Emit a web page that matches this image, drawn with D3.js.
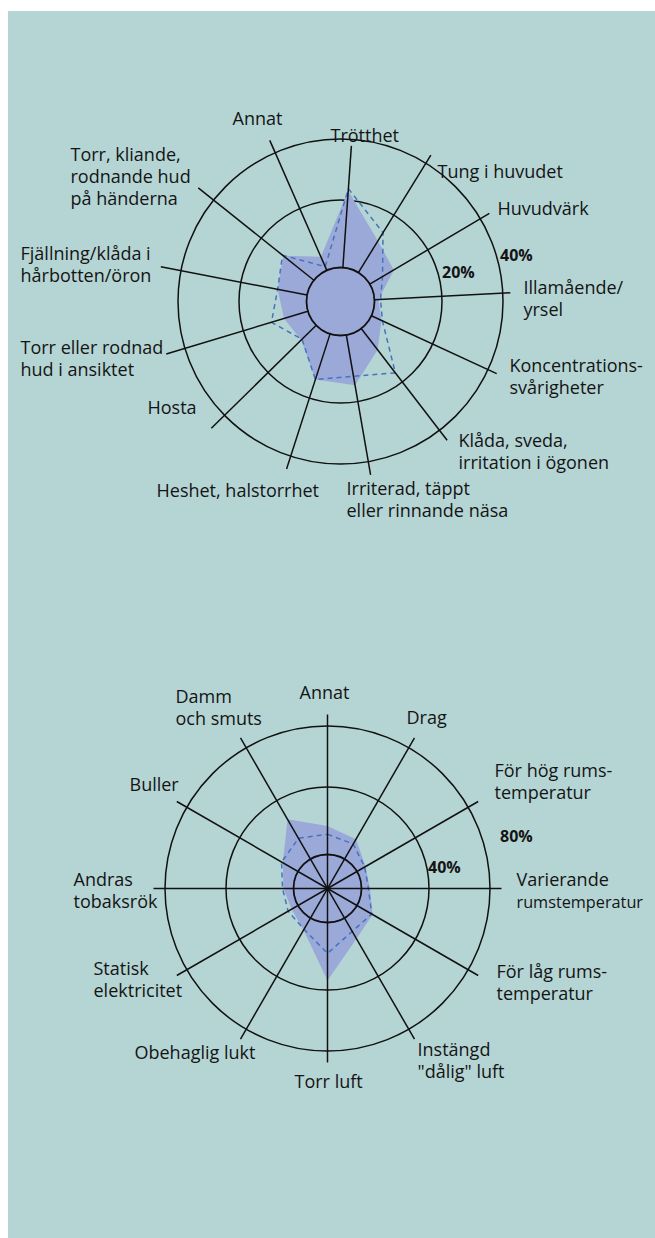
<!DOCTYPE html>
<html lang="sv">
<head>
<meta charset="utf-8">
<title>Besvär och miljöfaktorer</title>
<script src="https://d3js.org/d3.v7.min.js"></script>
<style>
  body { margin: 0; background: #fff; }
  svg text { font-family: "Open Sans", "Noto Sans", sans-serif; fill: #141414; }
</style>
</head>
<body>
<script>
// --- data: symptoms (top chart) ---
const symptoms = [
  "Trötthet", "Tung i huvudet", "Huvudvärk", "Illamående/\nyrsel",
  "Koncentrations-\nsvårigheter", "Klåda, sveda,\nirritation i ögonen",
  "Irriterad, täppt\neller rinnande näsa", "Heshet, halstorrhet", "Hosta",
  "Torr eller rodnad\nhud i ansiktet", "Fjällning/klåda i\nhårbotten/öron",
  "Torr, kliande,\nrodnande hud\npå händerna", "Annat"
];
const symptomsSolid  = [23.1, 11.0, 8.3, 1.2, 3.3, 8.0, 15.1, 14.2, 6.2, 7.4, 8.9, 11.6, 4.4];
const symptomsDashed = [23.8, 13.9, 4.4, 1.8, 3.6, 16.6, 12.4, 14.2, 5.9, 11.3, 8.9, 11.9, 1.2];
const symptomTicks = [20, 40];

// --- data: indoor climate (bottom chart) ---
const climate = [
  "Annat", "Drag", "För hög rums-\ntemperatur", "Varierande\nrumstemperatur",
  "För låg rums-\ntemperatur", "Instängd\n\"dålig\" luft", "Torr luft",
  "Obehaglig lukt", "Statisk\nelektricitet", "Andras\ntobaksrök", "Buller",
  "Damm\noch smuts"
];
const climateSolid  = [16.9, 13.6, 5.9, 5.0, 10.7, 14.2, 34.4, 8.3, 4.4, 6.0, 10.4, 27.3];
const climateDashed = [12.0, 10.3, 5.3, 4.1, 10.1, 9.2, 18.3, 7.7, 6.8, 6.5, 11.3, 14.2];
const climateTicks = [40, 80];

// --- layout ---
const W = 655, H = 1238;
const bg = "#b5d5d4", fillCol = "#9ba9d9", dashCol = "#4772bd";
const labelSize = 18;

const svg = d3.select("body").append("svg")
  .attr("width", W).attr("height", H);

svg.append("rect")
  .attr("x", 8).attr("y", 11)
  .attr("width", W - 8).attr("height", H - 11)
  .attr("fill", bg);

const charts = [
  {
    cx: 340.5, cy: 301.5, names: symptoms, solid: symptomsSolid, dashed: symptomsDashed,
    ticks: symptomTicks, startAngle: 4, lineFrom: 34, hub: true,
    spokeLen: [156, 172, 173, 170, 172, 175, 176, 176, 181, 182, 183, 182, 176],
    tickOffset: [[0, -24], [-3, -41]],
    labelAt: [[-10, -160], [97, -124], [157, -87], [183, -8], [169, 70], [118, 145],
              [6, 193], [-184, 195], [-193, 112], [-320, 52], [-320, -42], [-270, -141], [-108, -177]]
  },
  {
    cx: 327.5, cy: 888.5, names: climate, solid: climateSolid, dashed: climateDashed,
    ticks: climateTicks, startAngle: 0, lineFrom: 0, hub: false,
    spokeLen: d3.range(12).map(() => 174),
    tickOffset: [[-1, -16], [10, -47]],
    labelAt: [[-28, -190], [79, -165], [167, -112], [189, -3], [169, 89], [90, 167],
              [-33, 199], [-193, 170], [-234, 86], [-254, -3], [-198, -98], [-152, -186]]
  }
];

charts.forEach(c => {
  const n = c.names.length;
  const r = d3.scaleLinear()
    .domain([0, c.ticks[0], c.ticks[1]])
    .range([34, 101.5, 162.5]);
  const ang = i => (c.startAngle + i * 360 / n) * Math.PI / 180;

  const g = svg.append("g").attr("transform", `translate(${c.cx},${c.cy})`);

  // rings
  g.selectAll("circle.ring")
    .data(c.ticks)
    .enter().append("circle")
    .attr("class", "ring")
    .attr("r", d => r(d))
    .attr("fill", "none")
    .attr("stroke", "#111")
    .attr("stroke-width", 1.5);

  const radial = d3.lineRadial()
    .angle((d, i) => ang(i))
    .radius(d => r(d))
    .curve(d3.curveLinearClosed);

  g.append("path")
    .attr("d", radial(c.solid))
    .attr("fill", fillCol);

  g.append("path")
    .attr("d", radial(c.dashed))
    .attr("fill", "none")
    .attr("stroke", dashCol)
    .attr("stroke-width", 1.5)
    .attr("stroke-dasharray", "5,4");

  // spokes
  g.selectAll("line.spoke")
    .data(c.names)
    .enter().append("line")
    .attr("class", "spoke")
    .attr("x1", (d, i) => c.lineFrom * Math.sin(ang(i)))
    .attr("y1", (d, i) => -c.lineFrom * Math.cos(ang(i)))
    .attr("x2", (d, i) => c.spokeLen[i] * Math.sin(ang(i)))
    .attr("y2", (d, i) => -c.spokeLen[i] * Math.cos(ang(i)))
    .attr("stroke", "#111")
    .attr("stroke-width", 1.5);

  // inner circle (value 0)
  g.append("circle")
    .attr("r", r(0))
    .attr("fill", c.hub ? fillCol : "none")
    .attr("stroke", "#111")
    .attr("stroke-width", 1.8);

  // tick labels
  g.selectAll("text.tick")
    .data(c.ticks)
    .enter().append("text")
    .attr("class", "tick")
    .attr("x", (d, i) => r(d) + c.tickOffset[i][0])
    .attr("y", (d, i) => c.tickOffset[i][1])
    .attr("font-size", "16px")
    .attr("font-weight", "bold")
    .text(d => d + "%");

  // category labels
  const lab = g.selectAll("text.cat")
    .data(c.names)
    .enter().append("text")
    .attr("class", "cat")
    .attr("font-size", labelSize + "px")
    .attr("transform", (d, i) => `translate(${c.labelAt[i][0]},${c.labelAt[i][1]})`);

  lab.each(function(d, i) {
    const room = W - 12 - (c.cx + c.labelAt[i][0]);
    d3.select(this).selectAll("tspan")
      .data(d.split("\n"))
      .enter().append("tspan")
      .attr("x", 0)
      .attr("dy", (s, j) => j === 0 ? 0 : 22)
      .text(s => s)
      .each(function() {
        // shrink a line a little if it would run past the right edge
        const len = this.getComputedTextLength();
        if (len > room) {
          d3.select(this).attr("font-size", (labelSize * room / len).toFixed(2) + "px");
        }
      });
  });
});
</script>
</body>
</html>
